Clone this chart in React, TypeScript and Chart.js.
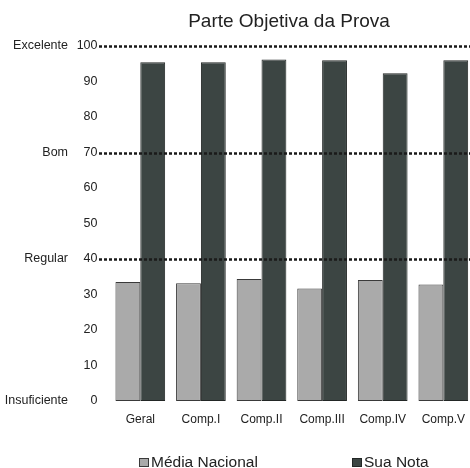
import React, { useEffect, useRef } from "react";
import { Chart, registerables } from "chart.js";

Chart.register(...registerables);

const chartTitle = "Parte Objetiva da Prova";
const categories = ["Geral", "Comp.I", "Comp.II", "Comp.III", "Comp.IV", "Comp.V"];
const seriesNames = ["Média Nacional", "Sua Nota"];
const mediaNacional = [33.5, 33.2, 34.4, 31.7, 34.1, 32.8];
const suaNota = [95.4, 95.4, 96.2, 96.0, 92.3, 96.0];
const levelValues = [100, 70, 40, 0];
const levelLabels = ["Excelente", "Bom", "Regular", "Insuficiente"];
const thresholdLines = [100, 70, 40];

const FONT = '"Liberation Sans", Arial, Helvetica, sans-serif';
const LIGHT = "#aaaaaa";
const LIGHT_BORDER = "#3a3a3a";
const DARK = "#3c4543";
const DARK_BORDER = "#222625";
const TEXT = "#222222";

const decorPlugin = {
  id: "decor",
  afterDatasetsDraw(chart: any) {
    const ctx = chart.ctx;
    const y = chart.scales.y;
    ctx.save();
    ctx.setLineDash([3, 2]);
    ctx.lineWidth = 2.5;
    ctx.strokeStyle = "#1a1a1a";
    thresholdLines.forEach((v) => {
      const py = Math.round(y.getPixelForValue(v)) + 0.5;
      ctx.beginPath();
      ctx.moveTo(99, py);
      ctx.lineTo(chart.width, py);
      ctx.stroke();
    });
    ctx.restore();
  },
  afterDraw(chart: any) {
    const ctx = chart.ctx;
    const y = chart.scales.y;
    ctx.save();
    ctx.font = `12.5px ${FONT}`;
    ctx.fillStyle = TEXT;
    ctx.textAlign = "right";
    ctx.textBaseline = "middle";
    levelValues.forEach((v, i) => {
      ctx.fillText(levelLabels[i], 68, y.getPixelForValue(v));
    });
    ctx.font = `19px ${FONT}`;
    ctx.textAlign = "center";
    ctx.fillText(chartTitle, 289, 22);
    const items = [
      { x: 139, color: LIGHT, border: LIGHT_BORDER },
      { x: 352, color: DARK, border: DARK_BORDER },
    ];
    ctx.font = `15.5px ${FONT}`;
    ctx.textAlign = "left";
    ctx.textBaseline = "alphabetic";
    items.forEach((it, i) => {
      ctx.fillStyle = it.color;
      ctx.fillRect(it.x, 458, 10, 9);
      ctx.strokeStyle = it.border;
      ctx.lineWidth = 1;
      ctx.strokeRect(it.x + 0.5, 458.5, 9, 8);
      ctx.fillStyle = TEXT;
      ctx.fillText(seriesNames[i], it.x + 12, 467);
    });
    ctx.restore();
  },
};

export default function App() {
  const ref = useRef<HTMLCanvasElement | null>(null);
  useEffect(() => {
    if (!ref.current) return;
    const chart = new Chart(ref.current, {
      type: "bar",
      data: {
        labels: categories,
        datasets: [
          {
            label: seriesNames[0],
            data: mediaNacional,
            backgroundColor: LIGHT,
            borderColor: LIGHT_BORDER,
            borderWidth: 1,
            borderSkipped: false,
            categoryPercentage: 0.82,
            barPercentage: 1,
          },
          {
            label: seriesNames[1],
            data: suaNota,
            backgroundColor: DARK,
            borderColor: DARK_BORDER,
            borderWidth: 1,
            borderSkipped: false,
            categoryPercentage: 0.82,
            barPercentage: 1,
          },
        ],
      },
      options: {
        responsive: false,
        animation: false,
        layout: { padding: { top: 46, left: 0, right: 0, bottom: 0 } },
        plugins: {
          legend: { display: false },
          title: { display: false },
          tooltip: { enabled: false },
        },
        scales: {
          x: {
            grid: { display: false, drawTicks: false },
            border: { display: false },
            ticks: {
              font: { size: 12, family: FONT },
              color: TEXT,
              padding: 11,
              maxRotation: 0,
              autoSkip: false,
            },
            afterFit: (scale: any) => {
              scale.height = 67;
            },
          },
          y: {
            min: 0,
            max: 100,
            grid: { display: false, drawTicks: false },
            border: { display: false },
            ticks: {
              stepSize: 10,
              font: { size: 12.5, family: FONT },
              color: TEXT,
              padding: 12.5,
            },
            afterFit: (scale: any) => {
              scale.width = 110;
            },
          },
        },
      },
      plugins: [decorPlugin],
    });
    return () => chart.destroy();
  }, []);
  return (
    <div
      style={{
        position: "absolute",
        left: 0,
        top: 0,
        width: 470,
        height: 468,
        overflow: "hidden",
        background: "#fff",
      }}
    >
      <canvas ref={ref} width={476} height={468} style={{ display: "block" }} />
    </div>
  );
}
